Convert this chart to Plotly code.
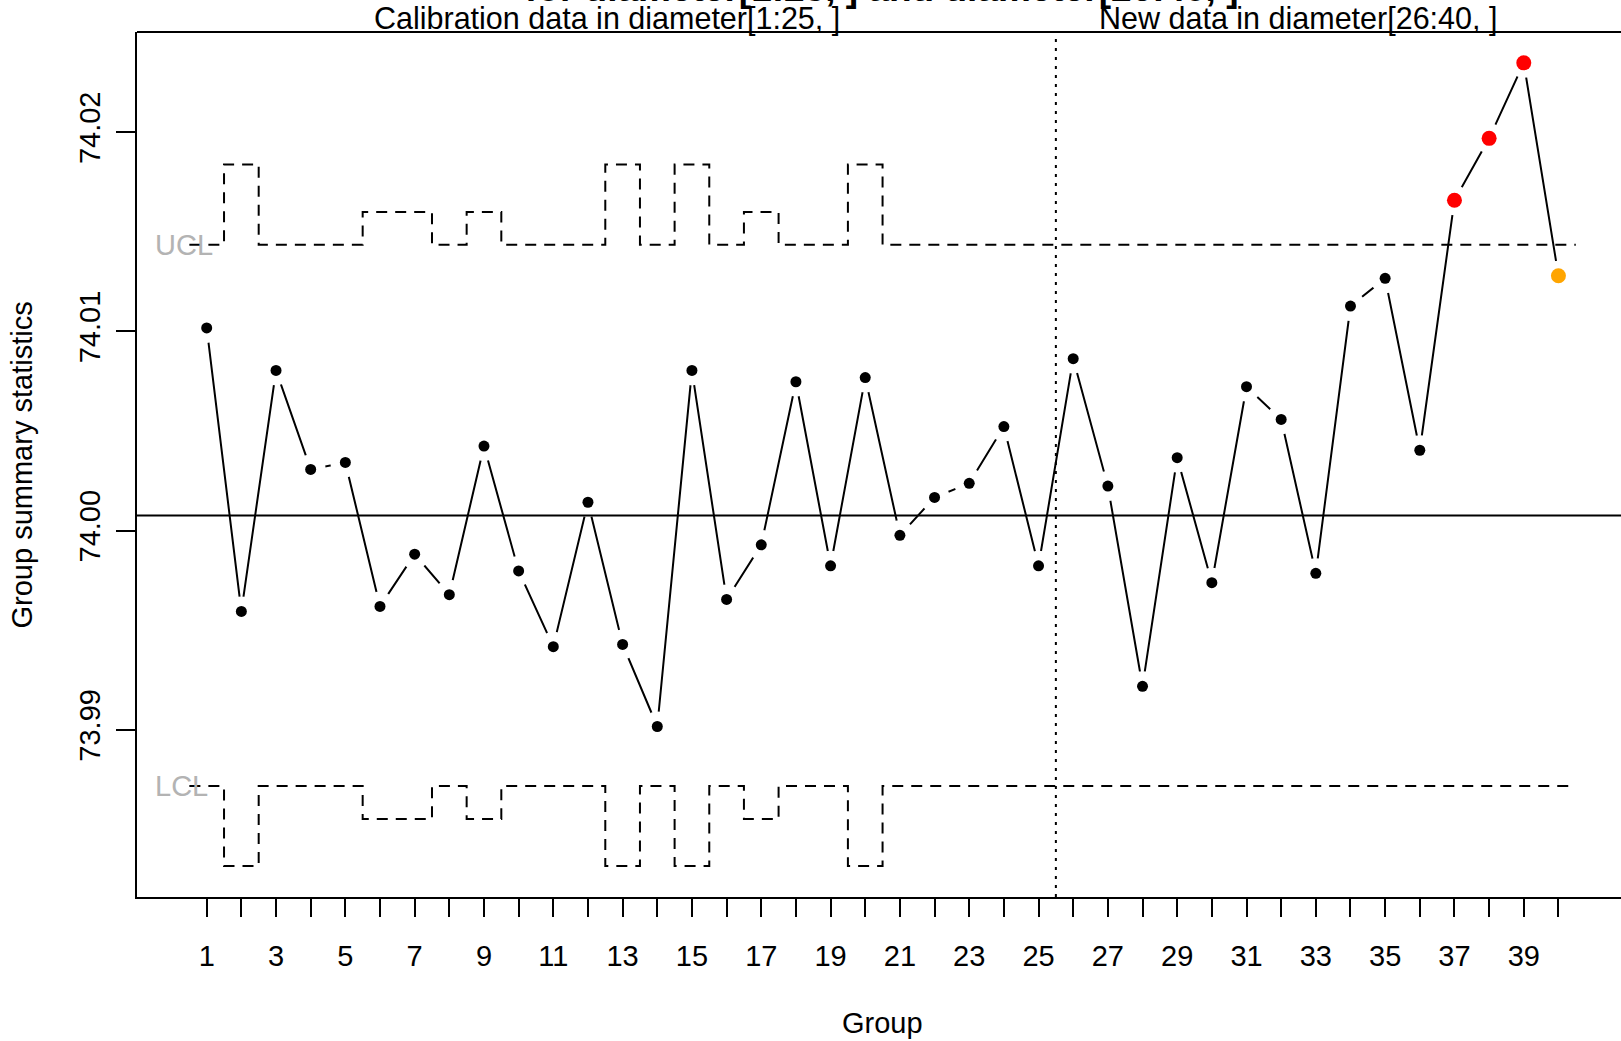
import plotly.graph_objects as go

# Group means (xbar) for 40 groups: 1-25 calibration, 26-40 new data
groups = list(range(1, 41))
xbar = [74.01017, 73.99594, 74.00804, 74.00307, 74.00342, 73.99619, 73.99881, 73.99678, 74.00424, 73.99797,
        73.99417, 74.00142, 73.99428, 73.99016, 74.00804, 73.99654, 73.99928, 74.00747, 73.99823, 74.00768,
        73.99976, 74.00166, 74.00237, 74.00522, 73.99823, 74.00863, 74.00223, 73.99218, 74.00366, 73.99738,
        74.00722, 74.00558, 73.99785, 74.01127, 74.01266, 74.00403, 74.01658, 74.01969, 74.02348, 74.01279]

# Control limits per group (they widen where a group has fewer observations)
ucl = [74.01435, 74.01838, 74.01435, 74.01435, 74.01435, 74.01599, 74.01599, 74.01435, 74.01599, 74.01435,
       74.01435, 74.01435, 74.01838, 74.01435, 74.01838, 74.01435, 74.01599, 74.01435, 74.01435, 74.01838,
       74.01435, 74.01435, 74.01435, 74.01435, 74.01435, 74.01435, 74.01435, 74.01435, 74.01435, 74.01435,
       74.01435, 74.01435, 74.01435, 74.01435, 74.01435, 74.01435, 74.01435, 74.01435, 74.01435, 74.01435]
lcl = [73.98717, 73.98316, 73.98717, 73.98717, 73.98717, 73.98552, 73.98552, 73.98717, 73.98552, 73.98717,
       73.98717, 73.98717, 73.98316, 73.98717, 73.98316, 73.98717, 73.98552, 73.98717, 73.98717, 73.98316,
       73.98717, 73.98717, 73.98717, 73.98717, 73.98717, 73.98717, 73.98717, 73.98717, 73.98717, 73.98717,
       73.98717, 73.98717, 73.98717, 73.98717, 73.98717, 73.98717, 73.98717, 73.98717, 73.98717, 73.98717]
center = 74.00076

# Point state: ok / beyond limits / violating runs
point_state = ["ok"] * 36 + ["beyond", "beyond", "beyond", "run"]
state_color = {"ok": "black", "beyond": "#ff0000", "run": "#ffa500"}
state_size = {"ok": 11, "beyond": 15, "run": 15}

y_tickvals = [73.99, 74.00, 74.01, 74.02]
y_ticktext = ["73.99", "74.00", "74.01", "74.02"]
x_ticktext = [str(g) if g % 2 == 1 else "" for g in groups]

calib_end = 25.5
FONT = "Liberation Sans, Arial, Helvetica, sans-serif"

fig = go.Figure()

# connecting line between group means
fig.add_trace(go.Scatter(x=groups, y=xbar, mode="lines",
                         line=dict(color="black", width=2), hoverinfo="skip"))
# white halos around points to break the line near each point
fig.add_trace(go.Scatter(x=groups, y=xbar, mode="markers",
                         marker=dict(color="white", size=30, opacity=1, line=dict(width=0)),
                         hoverinfo="skip"))

# stepped control limits
edges = [g - 0.5 for g in groups] + [groups[-1] + 0.5]
for lim in (ucl, lcl):
    fig.add_trace(go.Scatter(x=edges, y=lim + [lim[-1]], mode="lines", line_shape="hv",
                             line=dict(color="black", width=2, dash="11px,8px"), hoverinfo="skip"))

# points
fig.add_trace(go.Scatter(x=groups, y=xbar, mode="markers",
                         marker=dict(color=[state_color[s] for s in point_state],
                                     size=[state_size[s] for s in point_state],
                                     opacity=1, line=dict(width=0))))

# center line, calibration/new data divider, top border
fig.add_shape(type="line", xref="paper", x0=0, x1=1, yref="y", y0=center, y1=center,
              line=dict(color="black", width=2))
fig.add_shape(type="line", xref="x", x0=calib_end, x1=calib_end, yref="paper", y0=0, y1=1,
              line=dict(color="black", width=2, dash="3px,6px"))
fig.add_shape(type="line", xref="paper", x0=0, x1=1, yref="paper", y0=1, y1=1,
              line=dict(color="black", width=2))

ann = []
ann.append(dict(text="<b>xbar Chart<br>for diameter[1:25, ] and diameter[26:40, ]</b>",
                xref="paper", x=0.502, yref="paper", y=1.0225, yanchor="bottom", xanchor="center",
                yshift=1.5, showarrow=False, font=dict(size=37, color="black", family=FONT)))
ann.append(dict(text="Calibration data in diameter[1:25, ]", xref="x", x=12.56, yref="paper",
                y=1.0, yanchor="bottom", xanchor="center", yshift=-6, showarrow=False,
                font=dict(size=30.5, color="black", family=FONT)))
ann.append(dict(text="New data in diameter[26:40, ]", xref="x", x=32.5, yref="paper",
                y=1.0, yanchor="bottom", xanchor="center", yshift=-6, showarrow=False,
                font=dict(size=30.5, color="black", family=FONT)))
ann.append(dict(text="UCL", xref="x", x=-0.55, yref="y", y=ucl[0], xanchor="left", yanchor="middle",
                showarrow=False, font=dict(size=29, color="#b3b3b3", family=FONT)))
ann.append(dict(text="LCL", xref="x", x=-0.55, yref="y", y=lcl[0], xanchor="left", yanchor="middle",
                showarrow=False, font=dict(size=29, color="#b3b3b3", family=FONT)))
ann.append(dict(text="Group", xref="x", x=20.5, yref="paper", y=-0.146, xanchor="center",
                yanchor="middle", showarrow=False, font=dict(size=29, color="black", family=FONT)))
ann.append(dict(text="Group summary statistics", xref="paper", x=-0.0775, yref="paper", y=0.5,
                xanchor="center", yanchor="middle", textangle=-90, showarrow=False,
                font=dict(size=29, color="black", family=FONT)))

fig.update_layout(
    width=1621, height=1041, autosize=False,
    margin=dict(l=137, r=0, t=32, b=144, pad=0),
    paper_bgcolor="white", plot_bgcolor="white",
    showlegend=False, hovermode=False,
    font=dict(family=FONT, size=29, color="black"),
    annotations=ann,
    xaxis=dict(range=[-1.011, 41.805], tickmode="array", tickvals=groups, ticktext=x_ticktext,
               ticks="outside", ticklen=18, tickwidth=1.5, tickcolor="black",
               showline=True, linewidth=2, linecolor="black", showgrid=False, zeroline=False,
               ticklabelstandoff=14, tickfont=dict(size=29, family=FONT)),
    yaxis=dict(range=[73.9816, 74.02503], tickmode="array", tickvals=y_tickvals, ticktext=y_ticktext,
               ticks="outside", ticklen=19, tickwidth=1.5, tickcolor="black", tickangle=-90,
               showline=True, linewidth=2, linecolor="black", showgrid=False, zeroline=False,
               ticklabelstandoff=4, tickfont=dict(size=29, family=FONT)),
)

fig.write_html("out.html")
